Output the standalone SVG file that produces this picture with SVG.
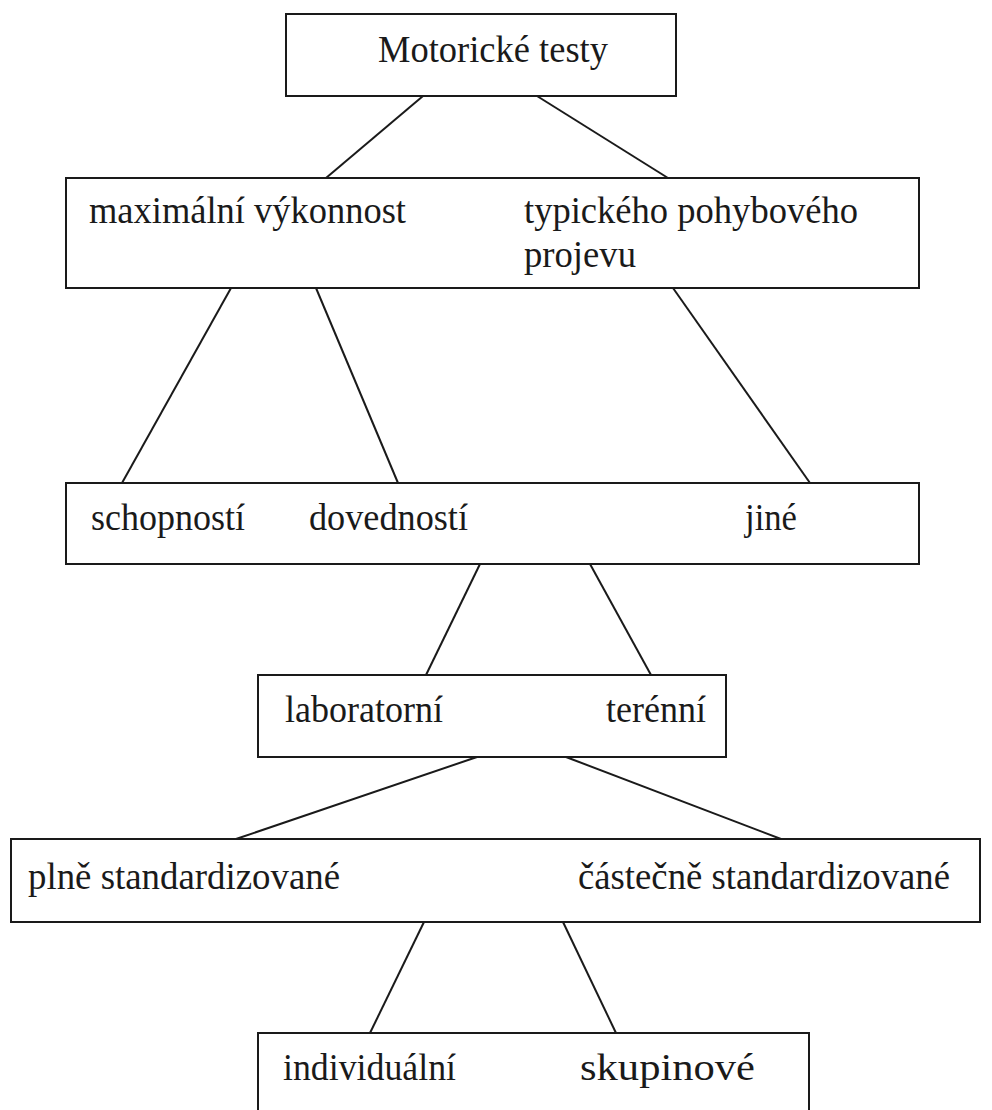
<svg xmlns="http://www.w3.org/2000/svg" width="992" height="1110" viewBox="0 0 992 1110">
<style>
.box{fill:#fff;stroke:#1a1a1a;stroke-width:2}
.t{font-family:"Liberation Serif","Times New Roman",serif;font-size:38px;fill:#1a1a1a}
.c{stroke:#1a1a1a;stroke-width:2;fill:none}
</style>
<rect width="992" height="1110" fill="#fff"/>
<g id="connectors">
<line class="c" x1="423" y1="96" x2="326" y2="178"/>
<line class="c" x1="537" y1="96" x2="668" y2="178"/>
<line class="c" x1="231" y1="288" x2="122" y2="483"/>
<line class="c" x1="316" y1="288" x2="398" y2="483"/>
<line class="c" x1="673" y1="288" x2="810" y2="483"/>
<line class="c" x1="480" y1="564" x2="426" y2="675"/>
<line class="c" x1="590" y1="564" x2="651" y2="675"/>
<line class="c" x1="477" y1="757" x2="236" y2="839"/>
<line class="c" x1="566" y1="757" x2="781" y2="839"/>
<line class="c" x1="424" y1="922" x2="370" y2="1033"/>
<line class="c" x1="563" y1="922" x2="616" y2="1033"/>
</g>
<g id="n1">
<rect class="box" x="286" y="14" width="390" height="82"/>
<text class="t" x="378" y="62" textLength="230" lengthAdjust="spacingAndGlyphs">Motorické testy</text>
</g>
<g id="n2">
<rect class="box" x="66" y="178" width="853" height="110"/>
<text class="t" x="89" y="223" textLength="317" lengthAdjust="spacingAndGlyphs">maximální výkonnost</text>
<text class="t" x="524" y="223" textLength="334" lengthAdjust="spacingAndGlyphs">typického pohybového</text>
<text class="t" x="524" y="267" textLength="112" lengthAdjust="spacingAndGlyphs">projevu</text>
</g>
<g id="n3">
<rect class="box" x="66" y="483" width="853" height="81"/>
<text class="t" x="91" y="530" textLength="154" lengthAdjust="spacingAndGlyphs">schopností</text>
<text class="t" x="309" y="530" textLength="159" lengthAdjust="spacingAndGlyphs">dovedností</text>
<text class="t" x="745" y="530" textLength="52" lengthAdjust="spacingAndGlyphs">jiné</text>
</g>
<g id="n4">
<rect class="box" x="258" y="675" width="468" height="82"/>
<text class="t" x="285" y="722" textLength="158" lengthAdjust="spacingAndGlyphs">laboratorní</text>
<text class="t" x="606" y="722" textLength="100" lengthAdjust="spacingAndGlyphs">terénní</text>
</g>
<g id="n5">
<rect class="box" x="11" y="839" width="969" height="83"/>
<text class="t" x="28" y="889" textLength="312" lengthAdjust="spacingAndGlyphs">plně standardizované</text>
<text class="t" x="578" y="889" textLength="372" lengthAdjust="spacingAndGlyphs">částečně standardizované</text>
</g>
<g id="n6">
<rect class="box" x="258" y="1033" width="551" height="90"/>
<text class="t" x="283" y="1080" textLength="173" lengthAdjust="spacingAndGlyphs">individuální</text>
<text class="t" x="580" y="1080" textLength="175" lengthAdjust="spacingAndGlyphs">skupinové</text>
</g>
</svg>
